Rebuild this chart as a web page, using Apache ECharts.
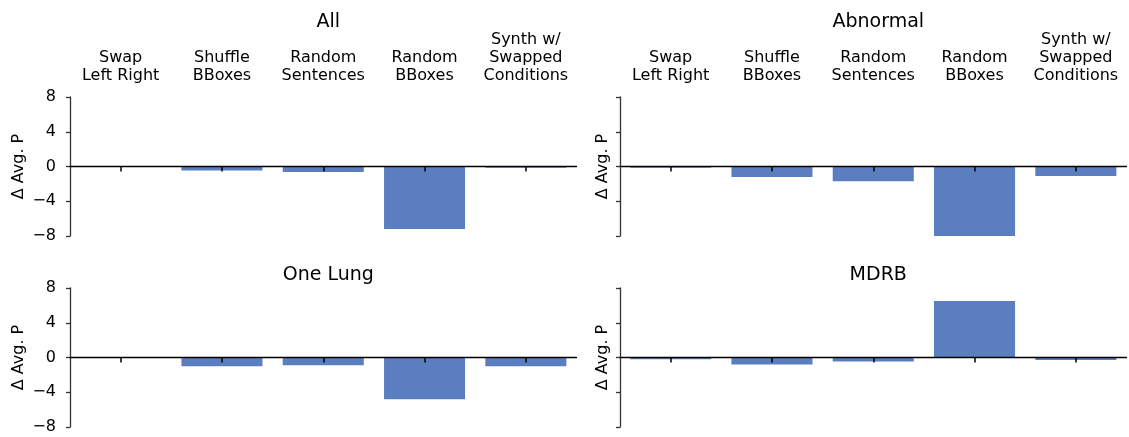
<!DOCTYPE html>
<html>
<head>
<meta charset="utf-8">
<script src="https://cdn.jsdelivr.net/npm/echarts@6/dist/echarts.min.js"></script>
<style>
    html, body { margin: 0; padding: 0; background: #fff; }
    #chart { width: 1129px; height: 437px; }
</style>
</head>
<body>
<div id="chart"></div>
<script>
    // categories and values
    const categories = ['Swap\nLeft Right', 'Shuffle\nBBoxes', 'Random\nSentences', 'Random\nBBoxes', 'Synth w/\nSwapped\nConditions'];
    const panelTitles = ['All', 'Abnormal', 'One Lung', 'MDRB'];
    const allValues = [-0.02, -0.45, -0.62, -7.2, -0.15];
    const abnormalValues = [-0.15, -1.2, -1.7, -8.1, -1.1];
    const oneLungValues = [-0.03, -1.0, -0.9, -4.8, -1.0];
    const mdrbValues = [-0.2, -0.8, -0.45, 6.5, -0.3];
    const yTicks = [-8, -4, 0, 4, 8];

    const font = 'DejaVu Sans';
    const barColor = '#5b7ec1';
    const spineColor = '#333333';

    // panel layout: [left, top]
    const panels = [
        { left: 70, top: 97, values: allValues, showCats: true, showY: true },
        { left: 620, top: 97, values: abnormalValues, showCats: true, showY: false },
        { left: 70, top: 288, values: oneLungValues, showCats: false, showY: true },
        { left: 620, top: 288, values: mdrbValues, showCats: false, showY: false },
    ];
    const gridW = 506.5, gridH = 139;

    const grid = [], xAxis = [], yAxis = [], series = [], title = [];

    panels.forEach((p, i) => {
        grid.push({ left: p.left, top: p.top, width: gridW, height: gridH });
        title.push({
            text: panelTitles[i],
            left: p.left + gridW / 2,
            top: p.top - (p.showCats ? 89 : 27),
            textAlign: 'center',
            textStyle: { fontFamily: font, fontSize: 19, fontWeight: 'normal', color: '#000' }
        });
        // bottom axis sitting on zero: line + ticks, drawn above the bars
        xAxis.push({
            type: 'category', gridIndex: i, data: categories, position: 'bottom', z: 5,
            axisLine: { onZero: true, lineStyle: { color: '#000', width: 1.3 } },
            axisTick: { show: true, alignWithLabel: true, length: 5, lineStyle: { color: '#000', width: 1.5 } },
            axisLabel: { show: false },
            splitLine: { show: false }
        });
        // top axis: category labels only
        xAxis.push({
            type: 'category', gridIndex: i, data: categories, position: 'top',
            axisLine: { show: false },
            axisTick: { show: false },
            axisLabel: {
                show: p.showCats, interval: 0, margin: 12,
                fontFamily: font, fontSize: 16, lineHeight: 18, color: '#000'
            }
        });
        yAxis.push({
            type: 'value', gridIndex: i, min: -8, max: 8, interval: 4,
            name: 'Δ Avg. P', nameLocation: 'middle', nameGap: p.showY ? 43 : 9,
            nameTextStyle: { fontFamily: font, fontSize: 16, color: '#000' },
            axisLine: { show: true, lineStyle: { color: spineColor, width: 1.3 } },
            axisTick: { show: true, length: 4, lineStyle: { color: spineColor, width: 1.3 } },
            axisLabel: {
                show: p.showY, margin: 14, fontFamily: font, fontSize: 16, color: '#000',
                formatter: v => yTicks.includes(v) ? (v < 0 ? '\u2212' + Math.abs(v) : String(v)) : ''
            },
            splitLine: { show: false }
        });
        series.push({
            type: 'bar', xAxisIndex: i * 2, yAxisIndex: i,
            data: p.values, barWidth: '80%',
            itemStyle: { color: barColor },
            z: 1
        });
    });

    const myChart = echarts.init(document.getElementById('chart'));
    myChart.setOption({
        animation: false,
        backgroundColor: '#fff',
        title, grid, xAxis, yAxis, series
    });
</script>
</body>
</html>
